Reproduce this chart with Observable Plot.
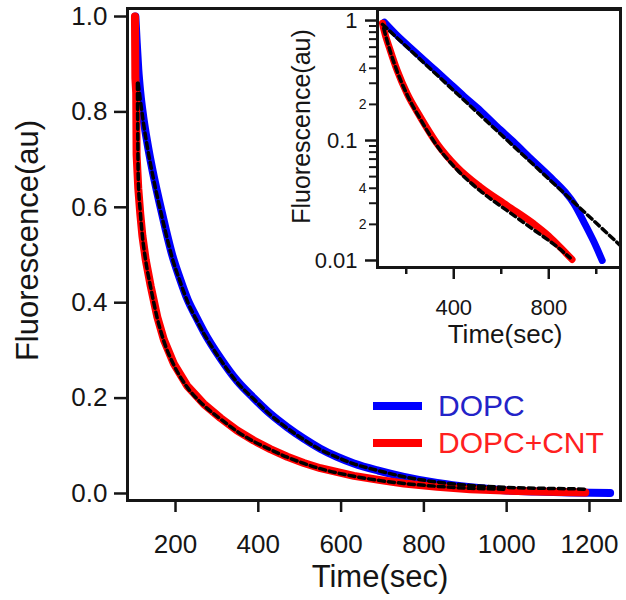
<!DOCTYPE html>
<html><head><meta charset="utf-8">
<script src="https://cdn.jsdelivr.net/npm/d3@7"></script>
<script src="https://cdn.jsdelivr.net/npm/@observablehq/plot@0.6"></script>
<style>
body{margin:0;background:#fff;}
#wrap{position:relative;width:626px;height:600px;font-family:"Liberation Sans",Arial,Helvetica,sans-serif;}
#inset{position:absolute;left:280px;top:0;}
#legend{position:absolute;left:373px;top:387px;}
.row{display:flex;align-items:center;height:37px;}
.sw{width:49px;height:8px;margin-right:16px;}
.lt{font-size:30px;line-height:37px;}
</style></head><body>
<div id="wrap"><div id="main"></div><div id="inset"></div><div id="legend"></div></div>
<script>
// ---- main panel data (time in sec, fluorescence in au) ----
const blueT = [103,106,110,115,122,132,145,160,176,192,210,230,250,268,309,349,389,429,470,510,550,590,631,690,752,832,912,993,1073,1154,1250];
const blueV = [1.0,0.95,0.89,0.84,0.79,0.735,0.675,0.615,0.555,0.50,0.452,0.405,0.37,0.34,0.283,0.236,0.200,0.167,0.139,0.115,0.094,0.077,0.063,0.048,0.035,0.022,0.013,0.007,0.004,0.002,0.001];
const redT = [102,103,105,106,110,115,120,128,140,156,172,196,228,268,309,349,389,429,470,510,550,631,695,752,832,912,993,1073,1190];
const redV = [1.0,0.87,0.84,0.71,0.64,0.585,0.54,0.49,0.435,0.37,0.322,0.272,0.226,0.188,0.158,0.132,0.111,0.093,0.077,0.064,0.053,0.037,0.028,0.021,0.014,0.009,0.006,0.004,0.002];
const blueFitT = [110,115,122,132,145,160,176,192,210,230,250,268,309,349,389,429,470,510,550,590,631,690,752,832,912,993,1073,1150,1190];
const blueFitV = [0.86,0.825,0.78,0.726,0.667,0.607,0.548,0.494,0.447,0.40,0.365,0.336,0.280,0.233,0.198,0.165,0.137,0.113,0.092,0.076,0.062,0.048,0.035,0.024,0.017,0.013,0.011,0.010,0.009];
const redFitT = [108,110,115,120,128,140,156,172,196,228,268,309,349,389,429,470,510,550,631,695,752,832,912,993];
const redFitV = [0.86,0.66,0.59,0.54,0.488,0.432,0.367,0.319,0.269,0.223,0.185,0.156,0.130,0.109,0.092,0.076,0.063,0.052,0.036,0.027,0.021,0.015,0.011,0.009];
const xTicks = [200,400,600,800,1000,1200];
const yTicks = [0,0.2,0.4,0.6,0.8,1.0];

// ---- inset data (log scale) ----
const insBlueT = [108,162,232,302,372,442,512,583,653,723,800,870,905,950,990,1025];
const insBlueV = [0.97,0.75,0.56,0.42,0.315,0.235,0.178,0.13,0.097,0.071,0.051,0.037,0.030,0.0205,0.0143,0.01];
const insRedT = [100,105,133,162,204,260,330,414,512,625,737,800,850,898];
const insRedV = [0.95,0.853,0.562,0.383,0.245,0.156,0.094,0.060,0.041,0.0287,0.0202,0.016,0.0128,0.0102];
const insBlueFitT = [100,1102];
const insBlueFitV = [0.93,0.0133];
const insRedFitT = [105,133,162,204,260,330,414,512,625,737,835,890];
const insRedFitV = [0.86,0.55,0.375,0.24,0.15,0.09,0.057,0.038,0.026,0.018,0.013,0.0105];
const insXMajor = [400,800];
const insXMinor = [200,600,1000];
const insYMajor = [1,0.1,0.01];
const insYMajorLabels = ["1","0.1","0.01"];
const insYMinor = [0.9,0.8,0.7,0.6,0.5,0.4,0.3,0.2,0.09,0.08,0.07,0.06,0.05,0.04,0.03,0.02];
const insYMinorLabels = ["","","","","","4","","2","","","","","","4","","2"];

const series = ["DOPC","DOPC+CNT"];
const colors = ["#0000ff","#ff0000"];
const textColors = ["#2323c8","#ff2020"];

const zip = (T,V) => T.map((t,i)=>({t, v:V[i]}));
const font = "Liberation Sans, Arial, Helvetica, sans-serif";
const ink = "#151515";
const dash = {stroke:"#000", strokeWidth:3.5, strokeDasharray:"6,4"};

const main = Plot.plot({
  width:626, height:600,
  marginLeft:127, marginRight:6, marginTop:8, marginBottom:100,
  style:{fontFamily:font, color:ink, background:"transparent", overflow:"visible"},
  x:{domain:[84,1275]},
  y:{domain:[-0.0147,1.0168]},
  marks:[
    Plot.line(zip(blueT,blueV),{x:"t",y:"v",stroke:colors[0],strokeWidth:8,strokeLinejoin:"round",curve:"monotone-x"}),
    Plot.line(zip(redT,redV),{x:"t",y:"v",stroke:colors[1],strokeWidth:8,strokeLinejoin:"round"}),
    Plot.line(zip(blueFitT,blueFitV),{x:"t",y:"v",...dash,curve:"monotone-x"}),
    Plot.line(zip(redFitT,redFitV),{x:"t",y:"v",...dash,curve:"monotone-x"}),
    Plot.frame({stroke:ink,strokeWidth:3}),
    Plot.axisX({ticks:xTicks,tickSize:12,tickPadding:22,fontSize:26,label:null,strokeWidth:2.5,tickFormat:d=>String(d)}),
    Plot.axisY({ticks:yTicks,tickSize:13,tickPadding:7,fontSize:26,label:null,strokeWidth:2.5,tickFormat:d=>d.toFixed(1)}),
    Plot.text(["Time(sec)"],{frameAnchor:"bottom",dy:77,dx:6,fontSize:31,lineAnchor:"middle",textAnchor:"middle",fill:ink}),
    Plot.text(["Fluorescence(au)"],{frameAnchor:"left",dx:-99,dy:-14,rotate:-90,fontSize:31,lineAnchor:"middle",textAnchor:"middle",fill:ink})
  ]
});
document.getElementById("main").appendChild(main);

const inset = Plot.plot({
  width:346, height:360,
  marginLeft:97, marginRight:6, marginTop:9, marginBottom:93,
  style:{fontFamily:font, color:ink, background:"transparent", overflow:"visible"},
  x:{domain:[79,1102]},
  y:{type:"log", domain:[0.00874,1.236]},
  marks:[
    Plot.frame({fill:"white"}),
    Plot.line(zip(insBlueT,insBlueV),{x:"t",y:"v",stroke:colors[0],strokeWidth:7,clip:true,curve:"monotone-x"}),
    Plot.line(zip(insRedT,insRedV),{x:"t",y:"v",stroke:colors[1],strokeWidth:7,clip:true,curve:"monotone-x"}),
    Plot.line(zip(insBlueFitT,insBlueFitV),{x:"t",y:"v",...dash,clip:true}),
    Plot.line(zip(insRedFitT,insRedFitV),{x:"t",y:"v",...dash,clip:true,curve:"monotone-x"}),
    Plot.frame({stroke:ink,strokeWidth:3}),
    Plot.axisX({ticks:insXMajor,tickSize:12,tickPadding:20,fontSize:22,label:null,strokeWidth:2.5}),
    Plot.axisX({ticks:insXMinor,tickSize:7,tickFormat:()=>"",label:null,strokeWidth:2.5}),
    Plot.axisY({ticks:insYMajor,tickSize:12,tickPadding:8,fontSize:22,label:null,strokeWidth:2.5,tickFormat:d=>insYMajorLabels[insYMajor.indexOf(d)]}),
    Plot.axisY({ticks:insYMinor,tickSize:8,tickPadding:3,fontSize:14,label:null,strokeWidth:2,tickFormat:d=>insYMinorLabels[insYMinor.indexOf(d)]}),
    Plot.text(["Time(sec)"],{frameAnchor:"bottom",dy:67,dx:6,fontSize:26,lineAnchor:"middle",textAnchor:"middle",fill:ink}),
    Plot.text(["Fluorescence(au)"],{frameAnchor:"left",dx:-76,dy:-12,rotate:-90,fontSize:25,lineAnchor:"middle",textAnchor:"middle",fill:ink})
  ]
});
document.getElementById("inset").appendChild(inset);

const leg = document.getElementById("legend");
series.forEach((s,i)=>{
  const row = document.createElement("div"); row.className="row";
  const sw = document.createElement("span"); sw.className="sw"; sw.style.background=colors[i];
  const lt = document.createElement("span"); lt.className="lt"; lt.style.color=textColors[i]; lt.textContent=s;
  row.appendChild(sw); row.appendChild(lt); leg.appendChild(row);
});
</script>
</body></html>
